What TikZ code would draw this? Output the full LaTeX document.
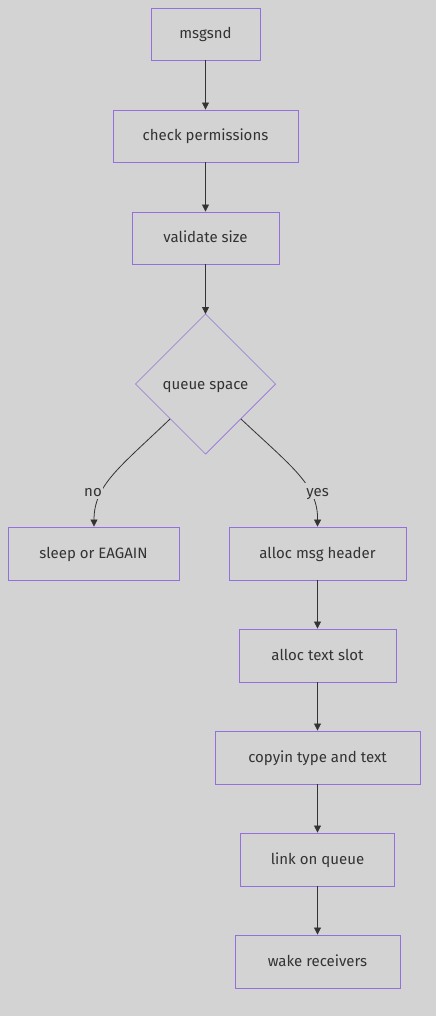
\documentclass[tikz,border=0pt]{standalone}
\usepackage{fontspec}
\setmainfont{Fira Sans}
\usetikzlibrary{arrows.meta}
\definecolor{bg}{HTML}{D3D3D3}
\definecolor{bord}{HTML}{9370DB}
\definecolor{ink}{HTML}{333333}
\begin{document}
\begin{tikzpicture}[x=1pt,y=-1pt,
  font=\fontsize{15}{18}\selectfont,
  box/.style={draw=bord,line width=0.9pt,fill=bg,text=ink,inner sep=0pt,text height=12pt,text depth=2pt},
  conn/.style={draw=ink,line width=0.8pt,-{Triangle[length=7pt,width=7pt]}},
  lbl/.style={fill=bg,text=ink,inner sep=1pt,text height=12pt,text depth=2pt}]
\fill[bg] (0,0) rectangle (436,1016);
\useasboundingbox (0,0) rectangle (436,1016);
\node[box,minimum width=109,minimum height=52] (a) at (205.5,34) {msgsnd};
\node[box,minimum width=185,minimum height=52] (b) at (205.5,136) {check permissions};
\node[box,minimum width=147,minimum height=52] (c) at (205.5,238) {validate size};
\coordinate (dc) at (205.5,384);
\draw[bord,line width=0.7pt,fill=bg] (205.5,314) -- (275.5,384) -- (205.5,454) -- (135.5,384) -- cycle;
\node[text=ink,text height=12pt,text depth=2pt] (d) at (dc) {queue space};
\coordinate (dt) at (205.5,314);
\coordinate (dl) at (170,419);
\coordinate (dr) at (241,419);
\node[box,minimum width=171,minimum height=53] (e) at (93.5,553.5) {sleep or EAGAIN};
\node[box,minimum width=177,minimum height=53] (f) at (317.5,553.5) {alloc msg header};
\node[box,minimum width=157,minimum height=53] (g) at (317.5,655.5) {alloc text slot};
\node[box,minimum width=205,minimum height=53] (h) at (317.5,757.5) {copyin type and text};
\node[box,minimum width=154,minimum height=53] (i) at (317.5,859.5) {link on queue};
\node[box,minimum width=165,minimum height=53] (j) at (317.5,961.5) {wake receivers};
\draw[conn] (a) -- (b);
\draw[conn] (b) -- (c);
\draw[conn] (c) -- (dt);
\draw[conn] (dl) .. controls (120,467) and (94,485) .. (e.north -| 94,0);
\draw[conn] (dr) .. controls (292,467) and (318,485) .. (f.north);
\node[lbl] (n) at (93,491) {no};
\node[lbl] (y) at (317.5,491) {yes};
\draw[conn] (f) -- (g);
\draw[conn] (g) -- (h);
\draw[conn] (h) -- (i);
\draw[conn] (i) -- (j);
\end{tikzpicture}
\end{document}
